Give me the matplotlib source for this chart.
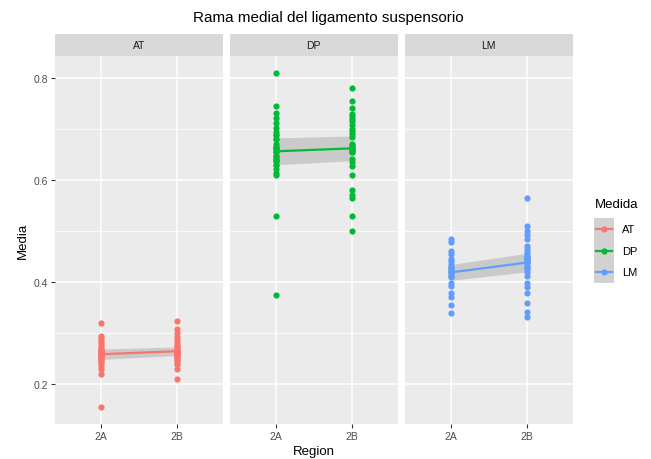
import numpy as np
import matplotlib
matplotlib.use("Agg")
import matplotlib.pyplot as plt
from matplotlib.patches import Rectangle
from matplotlib.lines import Line2D

plt.rcParams["font.family"] = ["Liberation Sans", "DejaVu Sans"]

medidas = ["AT", "DP", "LM"]
regions = ["2A", "2B"]
colors = {"AT": "#F8766D", "DP": "#00BA38", "LM": "#619CFF"}

# many points overlap at the same value, so the dense middle is listed more than once
at_2a = [0.32, 0.295, 0.29, 0.285, 0.282, 0.278, 0.275, 0.27, 0.27, 0.269,
         0.265, 0.265, 0.265, 0.264, 0.26, 0.26, 0.26, 0.26, 0.259, 0.255,
         0.255, 0.254, 0.25, 0.249, 0.245, 0.244, 0.239, 0.234, 0.229, 0.22,
         0.155]
at_2b = [0.324, 0.308, 0.301, 0.292, 0.287, 0.282, 0.277, 0.275, 0.272, 0.27,
         0.268, 0.268, 0.265, 0.265, 0.265, 0.263, 0.262, 0.26, 0.26, 0.26,
         0.258, 0.255, 0.255, 0.253, 0.25, 0.248, 0.245, 0.24, 0.239, 0.229,
         0.21]
dp_2a = [0.81, 0.745, 0.731, 0.722, 0.712, 0.702, 0.695, 0.688, 0.688, 0.68,
         0.68, 0.67, 0.665, 0.665, 0.661, 0.661, 0.655, 0.655, 0.648, 0.648,
         0.642, 0.642, 0.638, 0.638, 0.63, 0.63, 0.622, 0.615, 0.61, 0.53,
         0.375]
dp_2b = [0.78, 0.756, 0.741, 0.73, 0.726, 0.72, 0.716, 0.708, 0.7, 0.697,
         0.69, 0.685, 0.67, 0.668, 0.665, 0.665, 0.661, 0.66, 0.66, 0.656,
         0.656, 0.641, 0.635, 0.628, 0.61, 0.58, 0.571, 0.566, 0.53, 0.5]
lm_2a = [0.484, 0.478, 0.461, 0.455, 0.445, 0.442, 0.435, 0.43, 0.43, 0.425,
         0.425, 0.42, 0.42, 0.419, 0.415, 0.412, 0.41, 0.399, 0.392, 0.379,
         0.37, 0.355, 0.339]
lm_2b = [0.565, 0.51, 0.501, 0.492, 0.485, 0.47, 0.465, 0.46, 0.455, 0.45,
         0.45, 0.45, 0.445, 0.445, 0.44, 0.44, 0.44, 0.439, 0.435, 0.43,
         0.43, 0.425, 0.419, 0.412, 0.399, 0.39, 0.379, 0.36, 0.341, 0.331]

data = {"AT": (at_2a, at_2b), "DP": (dp_2a, dp_2b), "LM": (lm_2a, lm_2b)}


def t975(df):
    z = 1.959964
    return z + (z**3 + z) / (4 * df) + (5 * z**5 + 16 * z**3 + 3 * z) / (96 * df**2)


def mean_cl(vals):
    v = np.asarray(vals)
    n = len(v)
    m = v.mean()
    h = t975(n - 1) * v.std(ddof=1) / np.sqrt(n)
    return m, m - h, m + h


W, H = 651, 460
fig = plt.figure(figsize=(W / 100, H / 100), dpi=100)

bg = "#EBEBEB"
left0, pw, gap = 55, 167.5, 7.5
top, bottom = 56.7, 425
strip_h = 21.7
ylim = (0.122, 0.844)

axes = []
for i, m in enumerate(medidas):
    x0 = left0 + i * (pw + gap)
    ax = fig.add_axes([x0 / W, 1 - bottom / H, pw / W, (bottom - top) / H])
    ax.set_facecolor(bg)
    for sp in ax.spines.values():
        sp.set_visible(False)
    ax.set_xlim(0.4, 2.6)
    ax.set_ylim(*ylim)
    ax.set_yticks([0.2, 0.4, 0.6, 0.8])
    ax.set_yticks([0.3, 0.5, 0.7], minor=True)
    ax.set_xticks([1, 2])
    ax.set_xticklabels(regions)
    ax.grid(True, which="major", color="white", lw=1.1)
    ax.grid(True, which="minor", axis="y", color="white", lw=0.55)
    ax.set_axisbelow(True)
    ax.tick_params(axis="both", which="major", length=2.7, width=0.8, color="#333333",
                   labelsize=7.5, labelcolor="#4D4D4D", pad=2)
    ax.tick_params(axis="both", which="minor", length=0)
    if i > 0:
        ax.tick_params(axis="y", which="major", length=0, labelleft=False)

    ya, yb = data[m]
    c = colors[m]
    ma, loa, hia = mean_cl(ya)
    mb, lob, hib = mean_cl(yb)
    ax.fill_between([1, 2], [loa, lob], [hia, hib], color="#999999", alpha=0.4,
                    lw=0, zorder=2)
    ax.scatter(np.ones(len(ya)), ya, s=20, color=c, lw=0, zorder=3)
    ax.scatter(2 * np.ones(len(yb)), yb, s=20, color=c, lw=0, zorder=3)
    ax.plot([1, 2], [ma, mb], color=c, lw=1.6, zorder=4)

    sax = fig.add_axes([x0 / W, 1 - top / H, pw / W, strip_h / H])
    sax.set_facecolor("#D9D9D9")
    sax.set_xticks([])
    sax.set_yticks([])
    for sp in sax.spines.values():
        sp.set_visible(False)
    sax.text(0.5, 0.5, m, ha="center", va="center", fontsize=7.5, color="#1A1A1A",
             transform=sax.transAxes)
    axes.append(ax)

axes[0].set_ylabel("Media", fontsize=9.5, labelpad=4)
fig.text(left0 / W + (3 * pw + 2 * gap) / 2 / W, 1 - 452 / H, "Region",
         ha="center", va="center", fontsize=9.5)
fig.text(328 / W, 1 - 18 / H, "Rama medial del ligamento suspensorio",
         ha="center", va="center", fontsize=11)

# legend
fig.text(595 / W, 1 - 205 / H, "Medida", ha="left", va="center", fontsize=9.5)
key_w, key_h, key_x, key_y0 = 20, 21.7, 594, 219
for j, m in enumerate(medidas):
    ky = key_y0 + j * key_h
    fig.patches.append(Rectangle((key_x / W, 1 - (ky + key_h) / H), key_w / W, key_h / H,
                                 transform=fig.transFigure, facecolor="#D2D2D2",
                                 edgecolor="none"))
    yc = 1 - (ky + key_h / 2) / H
    fig.lines.append(Line2D([(key_x + 2) / W, (key_x + key_w - 2) / W], [yc, yc],
                            transform=fig.transFigure, color=colors[m], lw=1.6))
    fig.lines.append(Line2D([(key_x + key_w / 2) / W], [yc], transform=fig.transFigure,
                            marker="o", ms=4.5, color=colors[m], mew=0))
    fig.text((key_x + key_w + 8) / W, yc, m, ha="left", va="center", fontsize=8)

fig.savefig("out.png", dpi=100)
